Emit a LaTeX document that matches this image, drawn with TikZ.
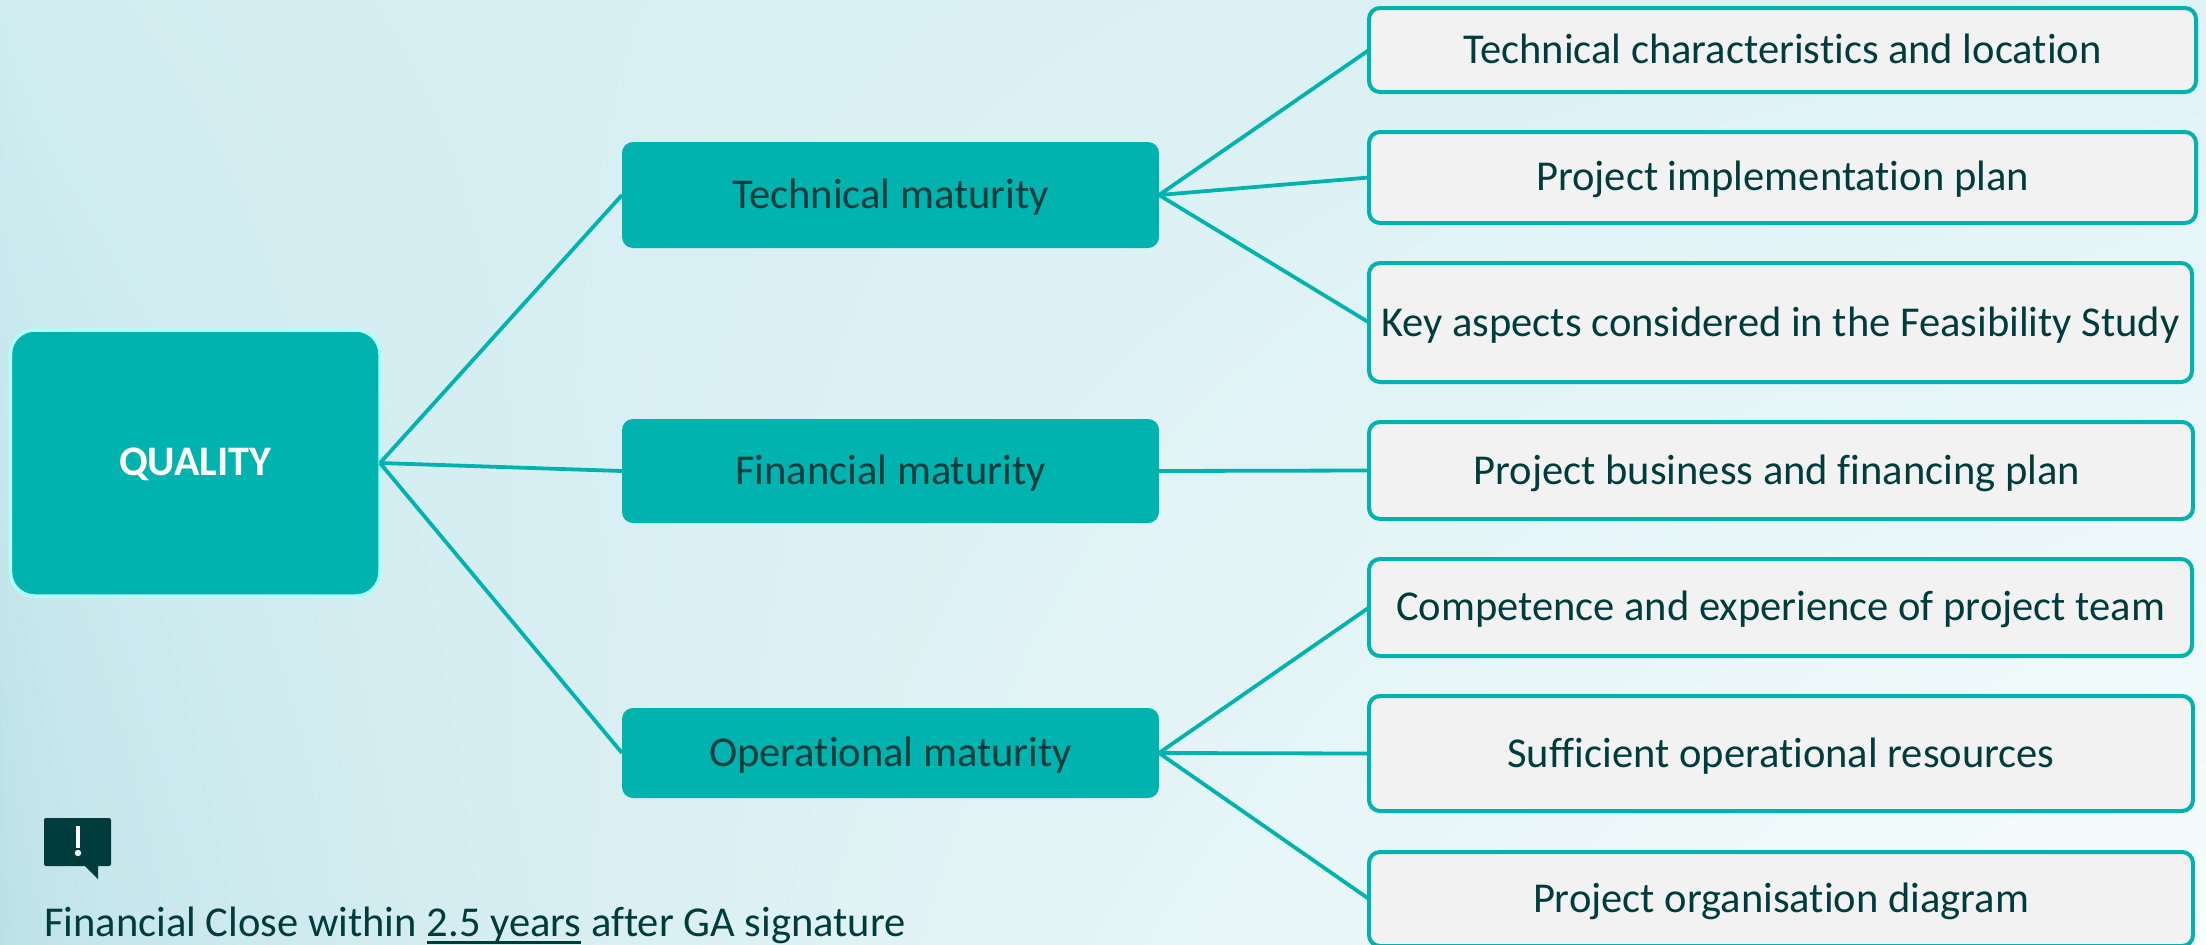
\documentclass[tikz,border=0pt]{standalone}
\usepackage{fontspec}
\setmainfont[Ligatures=NoCommon]{Carlito}
\definecolor{teal1}{HTML}{00B3AE}
\definecolor{darktxt}{HTML}{003C3C}
\definecolor{glow}{HTML}{B0FFFB}
\definecolor{leaf}{HTML}{F2F2F2}
\pgfdeclarefunctionalshading{bgshade}{\pgfpoint{0bp}{0bp}}{\pgfpoint{100bp}{100bp}}{}{
 25 sub 50 div exch 25 sub 50 div abs sqrt exch
 1 index 0.25 mul 1 index 0.09 mul add 2 index 2 index mul -0.185 mul add 0.72 add 3 1 roll
 1 index 0.11 mul 1 index 0.045 mul add 2 index 2 index mul -0.085 mul add 0.88 add 3 1 roll
 1 index 0.085 mul 1 index 0.035 mul add 2 index 2 index mul -0.06 mul add 0.905 add 3 1 roll
 pop pop
}
\tikzset{
 x=1bp,y=-1bp,
 rootbox/.style={draw=glow,line width=3.5bp,fill=teal1,rounded corners=24bp,text=white,font=\fontsize{42.2}{48}\selectfont\bfseries},
 midbox/.style={fill=teal1,rounded corners=11bp,text=darktxt,font=\fontsize{42.7}{50}\selectfont},
 leafbox/.style={draw=teal1,line width=4bp,fill=leaf,rounded corners=11bp,text=darktxt,font=\fontsize{42.7}{50}\selectfont},
 link/.style={draw=teal1,line width=3.8bp},
}
% #1 style, #2 name, #3-#6 left top right bottom, #7 baseline below the box centre, #8 text
\newcommand{\boxnode}[8]{\node[#1,minimum width=#5bp-#3bp,minimum height=#6bp-#4bp,inner sep=0pt,outer sep=0pt,anchor=center] (#2) at ({(#3+#5)/2},{(#4+#6)/2}) {\raisebox{-#7bp}[0pt][0pt]{#8}};}
\newcommand{\ulx}[1]{\setbox0\hbox{#1}\rlap{\rule[-7bp]{\wd0}{3bp}}\box0 }
\begin{document}
\begin{tikzpicture}
\useasboundingbox (0,0) rectangle (2206,944);
\shade[shading=bgshade] (0,0) rectangle (2206,944);
\boxnode{rootbox}{root}{10.5}{330}{380}{596}{12.5}{QUALITY}
\boxnode{midbox}{tech}{622}{142}{1159}{248}{13.3}{Technical maturity}
\boxnode{midbox}{fin}{622}{419}{1159}{523}{13}{Financial maturity}
\boxnode{midbox}{ops}{622}{708}{1159}{798}{13.8}{Operational maturity}
\boxnode{leafbox}{a}{1369}{8}{2196}{92}{13}{Technical characteristics and location}
\boxnode{leafbox}{b}{1369}{132}{2196}{223}{13}{Project implementation plan}
\boxnode{leafbox}{c}{1369}{263}{2192}{382}{13.5}{Key aspects considered in the Feasibility Study}
\boxnode{leafbox}{d}{1369}{422}{2193}{519}{13.5}{\hspace*{-8bp}Project business and financing plan}
\boxnode{leafbox}{e}{1369}{559}{2192}{656}{12.7}{Competence and experience of project team}
\boxnode{leafbox}{f}{1369}{696}{2193}{811}{13.5}{Sufficient operational resources}
\boxnode{leafbox}{g}{1369}{852}{2193}{946}{13.5}{Project organisation diagram}
\draw[link] (root.east) -- (tech.west);
\draw[link] (root.east) -- (fin.west);
\draw[link] (root.east) -- (ops.west);
\draw[link] (tech.east) -- (a.west);
\draw[link] (tech.east) -- (b.west);
\draw[link] (tech.east) -- (c.west);
\draw[link] (fin.east) -- (d.west);
\draw[link] (ops.east) -- (e.west);
\draw[link] (ops.east) -- (f.west);
\draw[link] (ops.east) -- (g.west);
\node[anchor=base west,inner sep=0pt,text=darktxt,font=\fontsize{42.7}{50}\selectfont] (note) at (44,936.5) {Financial Close within \ulx{2.5 years} after GA signature};
\fill[darktxt,rounded corners=2bp] (44,818) rectangle (111,866);
\fill[darktxt] (84,865) -- (98,865) -- (98,879) -- cycle;
\fill[white] (75.8,826) rectangle (80.2,848);
\fill[white] (78,853) circle (3.2);
\end{tikzpicture}
\end{document}
